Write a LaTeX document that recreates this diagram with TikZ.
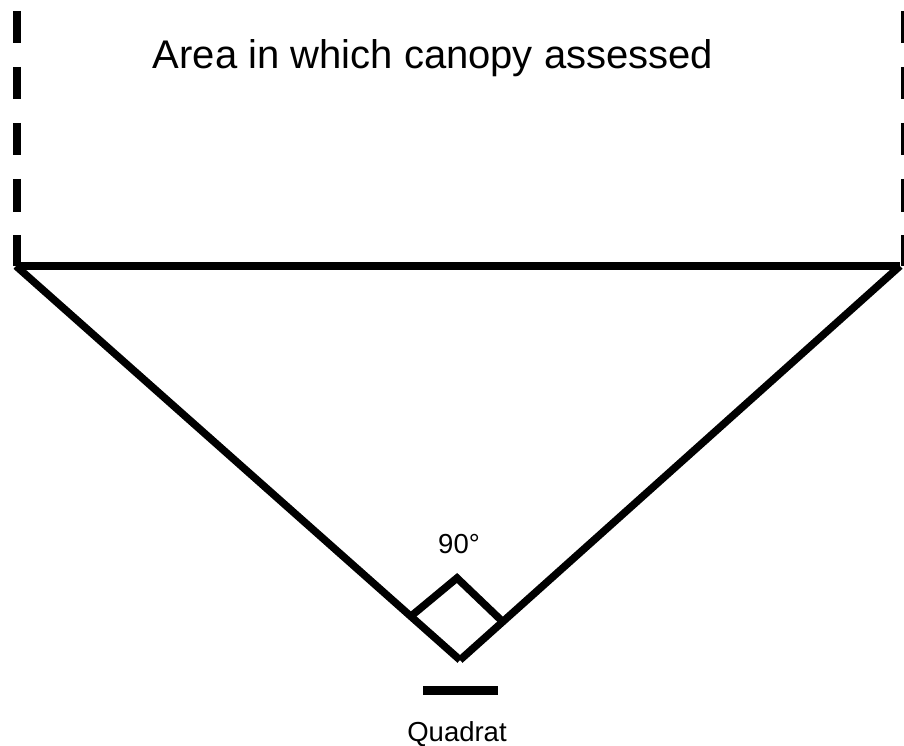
\documentclass[tikz,border=0pt]{standalone}
\usepackage{fontspec}
\setmainfont{Liberation Sans}
\begin{document}
\begin{tikzpicture}[x=1pt,y=-1pt,
  bound/.style={line width=#1, dash pattern=on 32.5pt off 23.5pt},
  edge/.style={line width=7.5pt},
  lbl/.style={anchor=base, inner sep=0pt}]
\useasboundingbox (0,0) rectangle (904,746);
\fill[white] (0,0) rectangle (904,746);
% corners
\coordinate (L) at (16,266);
\coordinate (R) at (900,266);
\coordinate (A) at (460,660);
\coordinate (LT) at (16.5,11);
\coordinate (LB) at (16.5,266);
\coordinate (RT) at (902.5,11);
\coordinate (RB) at (902.5,266);
% dashed boundaries
\draw[bound=8pt] (LT) -- (LB);
\draw[bound=3pt] (RT) -- (RB);
% triangle
\draw[edge] (L) -- (R);
\draw[edge] (L) -- (A);
\draw[edge] (R) -- (A);
% right-angle mark
\coordinate (S1) at (410,617);
\coordinate (S2) at (457,578);
\coordinate (S3) at (503,622);
\draw[edge, line join=miter] (S1) -- (S2) -- (S3);
% quadrat bar
\coordinate (Q1) at (423,690);
\coordinate (Q2) at (498,690);
\draw[line width=9pt] (Q1) -- (Q2);
% labels
\node[lbl, font=\fontsize{40}{48}\selectfont] (title) at (433,69) {Area in which canopy assessed};
\node[lbl, font=\fontsize{27.5}{33}\selectfont] (ang) at (459,553) {90°};
\node[lbl, font=\fontsize{27.5}{33}\selectfont] (quad) at (457,741) {Quadrat};
\end{tikzpicture}
\end{document}
